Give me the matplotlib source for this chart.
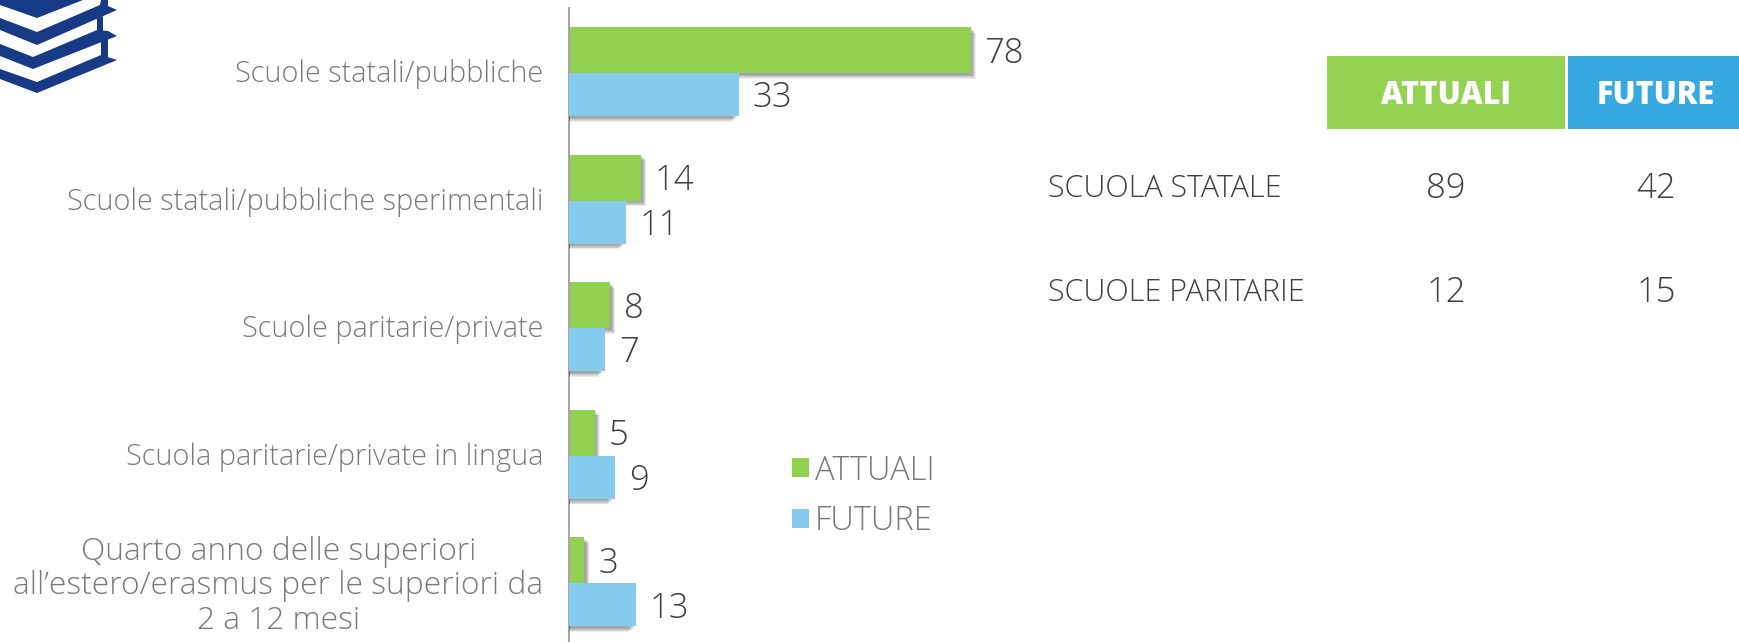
import numpy as np
import matplotlib
matplotlib.use('Agg')
import matplotlib.pyplot as plt
import matplotlib.patheffects as pe
from matplotlib.patches import Polygon, Rectangle
from matplotlib.transforms import ScaledTranslation

categories = ['Scuole statali/pubbliche',
              'Scuole statali/pubbliche sperimentali',
              'Scuole paritarie/private',
              'Scuola paritarie/private in lingua',
              'Quarto anno delle superiori\nall’estero/erasmus per le superiori da\n2 a 12 mesi']
attuali = [78, 14, 8, 5, 3]
future = [33, 11, 7, 9, 13]

table_rows = ['SCUOLA STATALE', 'SCUOLE PARITARIE']
table_attuali = [89, 12]
table_future = [42, 15]

GREEN = '#92D050'
BLUE = '#85CBEE'
HEAD_GREEN = '#94D351'
HEAD_BLUE = '#36A9E0'
NAVY = '#163A85'

W, H = 1740, 642
plt.rcParams['font.family'] = ['Open Sans', 'DejaVu Sans']
plt.rcParams['font.weight'] = 300

def soft_shadow(dx, dy):
    # stack of faint offset copies, looks like a blurred shadow
    fx = []
    for k in np.linspace(1, 0.3, 6):
        fx.append(pe.SimplePatchShadow(offset=(dx*k, dy*k), shadow_rgbFace='#333333', alpha=0.09))
    fx.append(pe.Normal())
    return fx

fig = plt.figure(figsize=(W/100, H/100), dpi=100)
ax = fig.add_axes([569/W, 0, (W-569)/W, (H-8)/H])

y = np.arange(len(categories))
h1 = 46/127.5
h2 = 43/127.5
b1 = ax.barh(y-h1/2, attuali, h1, color=GREEN, label='ATTUALI', path_effects=soft_shadow(3.5, -4), zorder=2)
b2 = ax.barh(y+h2/2, future, h2, color=BLUE, label='FUTURE', path_effects=soft_shadow(-5, -4), zorder=3)
for b in [b1, b2]:
    for t in ax.bar_label(b, padding=10, fontsize=25, color='#404040'):
        t.xyann = (10, -2.5)

ax.set_xlim(0, (W-569)/5.15)
ax.set_ylim(4.46, -0.51)
ax.set_yticks(y)
ax.set_yticklabels(categories, fontsize=20.8, color='#7A7A7A', linespacing=1.1, multialignment='center')
ax.tick_params(axis='y', length=0, pad=18.5)
ax.set_xticks([])
for lab in ax.get_yticklabels():
    lab.set_transform(lab.get_transform() + ScaledTranslation(0, 1.6/72, fig.dpi_scale_trans))
ax.get_yticklabels()[-1].set_fontsize(22.9)
for s in ['top', 'right', 'bottom']:
    ax.spines[s].set_visible(False)
ax.spines['left'].set_color('#A6A6A6')
ax.spines['left'].set_linewidth(1.5)

leg = ax.legend(loc='upper left', bbox_to_anchor=(0.1905, 0.2965), frameon=False, fontsize=23.5,
                labelcolor='#7A7A7A', handlelength=0.52, handleheight=0.52, handletextpad=0.18,
                labelspacing=0.51, borderpad=0, borderaxespad=0)
for p in leg.get_patches():
    p.set_path_effects([])

# overlay in pixel coordinates for table and icon
ov = fig.add_axes([0, 0, 1, 1])
ov.set_xlim(0, W)
ov.set_ylim(H, 0)
ov.axis('off')
ov.patch.set_alpha(0)

ov.add_patch(Rectangle((1327, 56), 238, 73, color=HEAD_GREEN, lw=0))
ov.add_patch(Rectangle((1568, 56), 172, 73, color=HEAD_BLUE, lw=0))
ov.text(1446, 96, 'ATTUALI', color='white', fontsize=22, fontweight=800, ha='center', va='center')
ov.text(1656, 96, 'FUTURE', color='white', fontsize=22, fontweight=800, ha='center', va='center')

row_y = [189, 293]
for i, name in enumerate(table_rows):
    ov.text(1048, row_y[i], name, color='#404040', fontsize=22, ha='left', va='center')
    ov.text(1446, row_y[i], str(table_attuali[i]), color='#404040', fontsize=25, ha='center', va='center')
    ov.text(1656, row_y[i], str(table_future[i]), color='#404040', fontsize=25, ha='center', va='center')

# books icon, top left corner
ov.add_patch(Polygon([(0, 0), (83, 0), (37, 18), (0, 5)], color=NAVY, lw=0))
ov.add_patch(Polygon([(0, 18), (37, 32), (100, 5), (101, 0), (108, 0), (108, 6), (117, 10), (37, 45), (0, 30)], color=NAVY, lw=0))
ov.add_patch(Polygon([(0, 44), (33, 57), (97, 30), (108, 31), (117, 36), (33, 69), (0, 56)], color=NAVY, lw=0))
ov.add_patch(Polygon([(0, 69), (37, 82), (101, 55), (117, 60), (37, 93), (0, 79)], color=NAVY, lw=0))
ov.add_patch(Polygon([(97, 18), (103, 16), (103, 32), (97, 32)], color=NAVY, lw=0))
ov.add_patch(Polygon([(101, 36), (108, 38), (108, 57), (101, 57)], color=NAVY, lw=0))

fig.savefig('out.png', dpi=100)
